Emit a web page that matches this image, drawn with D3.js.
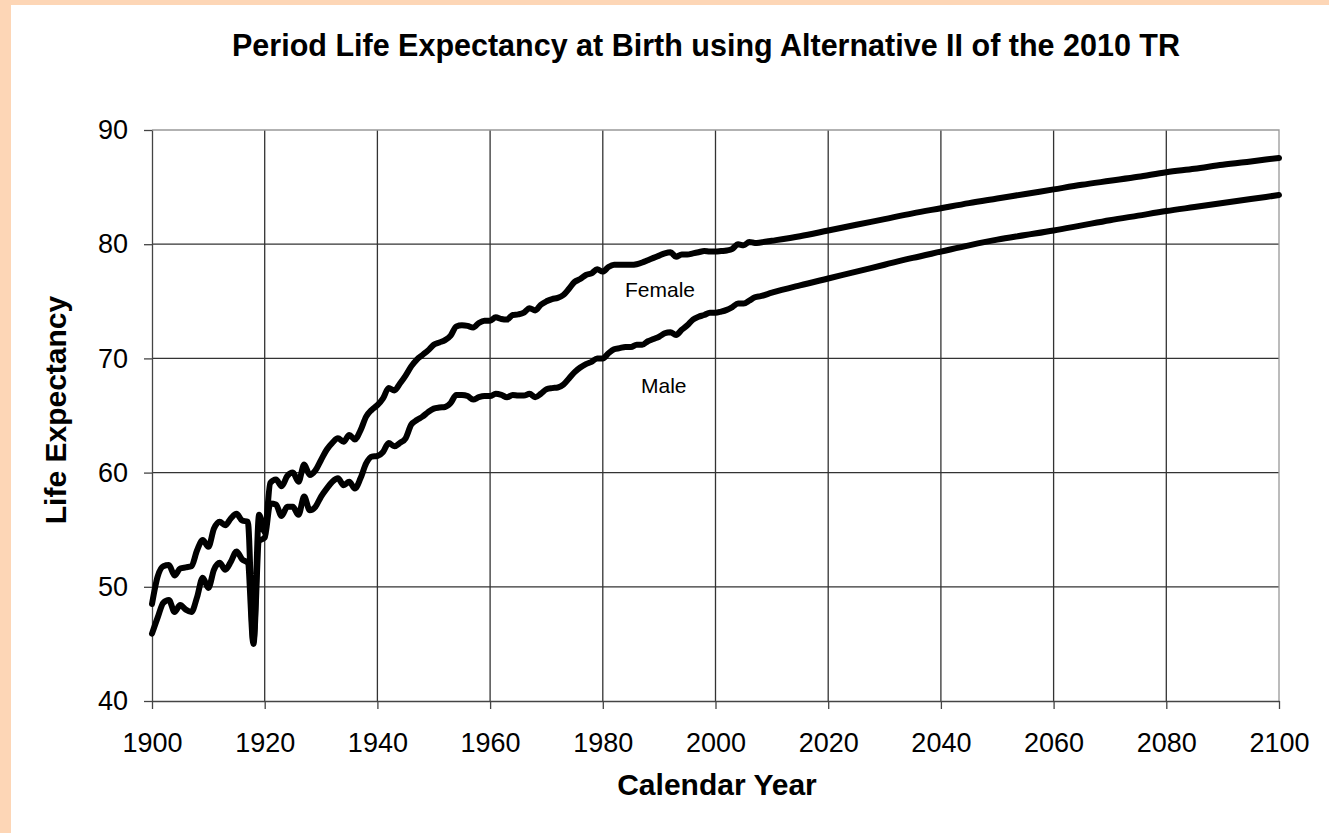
<!DOCTYPE html>
<head>
  <meta charset="utf-8">
  <script src="https://d3js.org/d3.v7.min.js"></script>
  <style>
    body { margin:0; background:#fff; }
    svg text { font-family: "Liberation Sans", Arial, sans-serif; fill:#000; }
  </style>
</head>
<body>
<script>
  // historical years are annual, projections read every 5 years
  var histYears = d3.range(1900, 2009)
  var projYears = d3.range(2010, 2101, 5)

  var femaleHist = [
    48.5, 50.9, 51.8, 51.9, 51.0, 51.6, 51.7, 51.8, 53.2, 54.1,
    53.5, 55.1, 55.7, 55.4, 56.0, 56.4, 55.8, 55.7, 45.2, 56.3,
    54.8, 59.1, 59.4, 58.8, 59.7, 60.0, 59.2, 60.7, 59.8, 60.2,
    61.1, 62.0, 62.6, 63.0, 62.7, 63.3, 62.9, 63.7, 64.9, 65.5,
    65.9, 66.5, 67.4, 67.2, 67.8, 68.5, 69.3, 69.9, 70.3, 70.7,
    71.2, 71.4, 71.6, 72.0, 72.8, 72.9, 72.85, 72.7, 73.1, 73.3,
    73.3, 73.6, 73.45, 73.4, 73.8, 73.85, 74.0, 74.4, 74.2, 74.7,
    75.0, 75.2, 75.3, 75.55, 76.1, 76.7, 76.95, 77.3, 77.45, 77.8,
    77.6, 78.0, 78.2, 78.2, 78.2, 78.2, 78.25, 78.4, 78.6, 78.8,
    79.0, 79.2, 79.3, 78.9, 79.1, 79.1, 79.2, 79.3, 79.4, 79.35,
    79.35, 79.4, 79.45, 79.6, 80.0, 79.9, 80.2, 80.1, 80.15
  ]
  var maleHist = [
    45.9, 47.3, 48.6, 48.85, 47.8, 48.4, 48.0, 47.8, 49.1, 50.8,
    49.9, 51.5, 52.1, 51.5, 52.2, 53.1, 52.4, 52.1, 45.0, 54.0,
    54.3, 57.3, 57.2, 56.2, 57.0, 57.0, 56.3, 57.9, 56.7, 57.0,
    57.9, 58.6, 59.2, 59.5, 58.9, 59.2, 58.6, 59.5, 60.8, 61.4,
    61.45, 61.8, 62.6, 62.3, 62.6, 63.0, 64.2, 64.6, 64.9, 65.3,
    65.6, 65.7, 65.75, 66.1, 66.8, 66.8, 66.7, 66.4, 66.6, 66.7,
    66.7, 66.9, 66.8, 66.6, 66.8, 66.75, 66.75, 66.9, 66.6, 66.9,
    67.3, 67.4, 67.45, 67.7, 68.25, 68.8, 69.2, 69.5, 69.7, 70.0,
    70.0, 70.45, 70.8, 70.9, 71.0, 71.0, 71.2, 71.2, 71.5, 71.7,
    71.9, 72.2, 72.3, 72.05, 72.5, 72.9, 73.4, 73.65, 73.8, 74.0,
    74.0, 74.1, 74.25, 74.5, 74.8, 74.8, 75.05, 75.35, 75.45
  ]
  var femaleProj = [80.3, 80.7, 81.2, 81.7, 82.2, 82.7, 83.15, 83.6, 84.0, 84.4,
                    84.8, 85.2, 85.55, 85.9, 86.3, 86.6, 86.95, 87.25, 87.55]
  var maleProj = [75.75, 76.4, 77.0, 77.6, 78.2, 78.8, 79.35, 79.9, 80.4, 80.8,
                  81.2, 81.65, 82.1, 82.5, 82.9, 83.25, 83.6, 83.95, 84.3]

  var xTicks = d3.range(1900, 2101, 20)
  var yTicks = [40, 50, 60, 70, 80, 90]

  var years = histYears.concat(projYears)
  var female = femaleHist.concat(femaleProj)
  var male = maleHist.concat(maleProj)

  var svg = d3.select("body")
    .append("svg")
    .attr("width", 1329)
    .attr("height", 833)

  // peach frame on the left and top
  svg.append("rect").attr("x", 0).attr("y", 0).attr("width", 1329).attr("height", 833).attr("fill", "#fdd6b6")
  svg.append("rect").attr("x", 11).attr("y", 5).attr("width", 1318).attr("height", 828).attr("fill", "#fff")

  var mLeft = 152, mTop = 130, pw = 1127, ph = 571

  var x = d3.scaleLinear().domain([1900, 2100]).range([mLeft, mLeft + pw])
  var y = d3.scaleLinear().domain([40, 90]).range([mTop + ph, mTop])

  // grid
  svg.selectAll(".hgrid").data(yTicks.slice(1, -1)).enter()
    .append("line")
    .attr("x1", mLeft).attr("x2", mLeft + pw)
    .attr("y1", function(d) { return y(d) }).attr("y2", function(d) { return y(d) })
    .attr("stroke", "#333").attr("stroke-width", 1.3)
  svg.selectAll(".vgrid").data(xTicks.slice(1, -1)).enter()
    .append("line")
    .attr("y1", mTop).attr("y2", mTop + ph)
    .attr("x1", function(d) { return x(d) }).attr("x2", function(d) { return x(d) })
    .attr("stroke", "#333").attr("stroke-width", 1.3)

  // plot border top and right
  svg.append("path")
    .attr("d", "M" + mLeft + "," + mTop + "H" + (mLeft + pw) + "V" + (mTop + ph))
    .attr("fill", "none").attr("stroke", "#999").attr("stroke-width", 1.3)

  var xAxis = d3.axisBottom(x).tickValues(xTicks).tickFormat(d3.format("d"))
    .tickSizeInner(8).tickSizeOuter(0).tickPadding(24)
  var yAxis = d3.axisLeft(y).tickValues(yTicks)
    .tickSizeInner(8).tickSizeOuter(0).tickPadding(16)

  var gx = svg.append("g").attr("transform", "translate(0," + (mTop + ph) + ")").call(xAxis)
  var gy = svg.append("g").attr("transform", "translate(" + mLeft + ",0)").call(yAxis)
  ;[gx, gy].forEach(function(g) {
    g.selectAll("path, line").attr("stroke", "#444").attr("stroke-width", 1.3)
    g.selectAll("text").attr("font-size", 27).attr("font-family", "Liberation Sans, Arial")
  })

  // smoothed like the spreadsheet original
  var line = d3.line()
    .curve(d3.curveMonotoneX)
    .x(function(d, i) { return x(years[i]) })
    .y(function(d) { return y(d) })

  svg.selectAll(".series").data([female, male]).enter()
    .append("path")
    .attr("class", "series")
    .attr("d", function(d) { return line(d) })
    .attr("fill", "none")
    .attr("stroke", "#000")
    .attr("stroke-width", 6)
    .attr("stroke-linejoin", "round")
    .attr("stroke-linecap", "round")

  svg.append("text").attr("x", 625).attr("y", 297).attr("font-size", 21).text("Female")
  svg.append("text").attr("x", 641).attr("y", 393).attr("font-size", 21).text("Male")

  svg.append("text")
    .attr("x", 706).attr("y", 56)
    .attr("text-anchor", "middle").attr("font-size", 30.5).attr("font-weight", "bold")
    .text("Period Life Expectancy at Birth using Alternative II of the 2010 TR")

  svg.append("text")
    .attr("x", 717).attr("y", 795)
    .attr("text-anchor", "middle").attr("font-size", 30).attr("font-weight", "bold")
    .text("Calendar Year")

  svg.append("text")
    .attr("transform", "translate(66,410) rotate(-90)")
    .attr("text-anchor", "middle").attr("font-size", 30).attr("font-weight", "bold")
    .text("Life Expectancy")
</script>
</body>
